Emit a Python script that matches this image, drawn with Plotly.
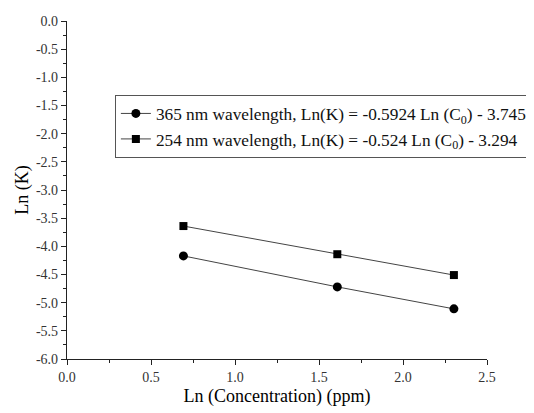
import plotly.graph_objects as go

ln_conc = [0.693, 1.609, 2.303]
lnk_365 = [-4.17, -4.72, -5.11]
lnk_254 = [-3.64, -4.14, -4.51]

name_365 = "365 nm wavelength, Ln(K) = -0.5924 Ln (C<sub>0</sub>) - 3.745"
name_254 = "254 nm wavelength, Ln(K) = -0.524 Ln (C<sub>0</sub>) - 3.294"

x_tickvals = [0.0, 0.5, 1.0, 1.5, 2.0, 2.5]
x_ticktext = ["0.0", "0.5", "1.0", "1.5", "2.0", "2.5"]
y_tickvals = [0.0, -0.5, -1.0, -1.5, -2.0, -2.5, -3.0, -3.5, -4.0, -4.5, -5.0, -5.5, -6.0]
y_ticktext = ["0.0", "-0.5", "-1.0", "-1.5", "-2.0", "-2.5", "-3.0", "-3.5", "-4.0", "-4.5", "-5.0", "-5.5", "-6.0"]

font_fam = "Liberation Serif, Times New Roman, serif"

fig = go.Figure()
fig.add_trace(go.Scatter(
    x=ln_conc, y=lnk_365, mode="lines+markers", name=name_365,
    line=dict(color="#444444", width=1),
    marker=dict(symbol="circle", size=9, color="black"),
))
fig.add_trace(go.Scatter(
    x=ln_conc, y=lnk_254, mode="lines+markers", name=name_254,
    line=dict(color="#444444", width=1),
    marker=dict(symbol="square", size=8, color="black"),
))

axis_common = dict(
    showline=True, linecolor="#222", linewidth=1.3,
    ticks="outside", ticklen=5, tickwidth=1.2, tickcolor="#222",
    showgrid=False, zeroline=False, mirror=False,
    tickfont=dict(family=font_fam, size=14, color="#333"),
)

fig.update_layout(
    width=526, height=405,
    margin=dict(l=59, r=47, t=13, b=54, autoexpand=False),
    paper_bgcolor="white", plot_bgcolor="white",
    font=dict(family=font_fam, color="black"),
    showlegend=True,
    legend=dict(
        x=0.114, y=0.782, xanchor="left", yanchor="top",
        bgcolor="white", bordercolor="#555", borderwidth=1,
        font=dict(family=font_fam, size=17.3, color="#111"),
        tracegroupgap=0, itemwidth=30,
    ),
    xaxis=dict(
        range=[0, 2.5], tickvals=x_tickvals, ticktext=x_ticktext,
        minor=dict(ticks="outside", dtick=0.25, tick0=0, ticklen=3, tickcolor="#222"),
        title=dict(text="Ln (Concentration) (ppm)", font=dict(family=font_fam, size=18), standoff=5),
        **axis_common,
    ),
    yaxis=dict(
        range=[-6, 0], tickvals=y_tickvals, ticktext=y_ticktext,
        minor=dict(ticks="outside", dtick=0.25, tick0=0, ticklen=3, tickcolor="#222"),
        title=dict(text="Ln (K)", font=dict(family=font_fam, size=18), standoff=2),
        **axis_common,
    ),
)

fig.write_html("out.html")
